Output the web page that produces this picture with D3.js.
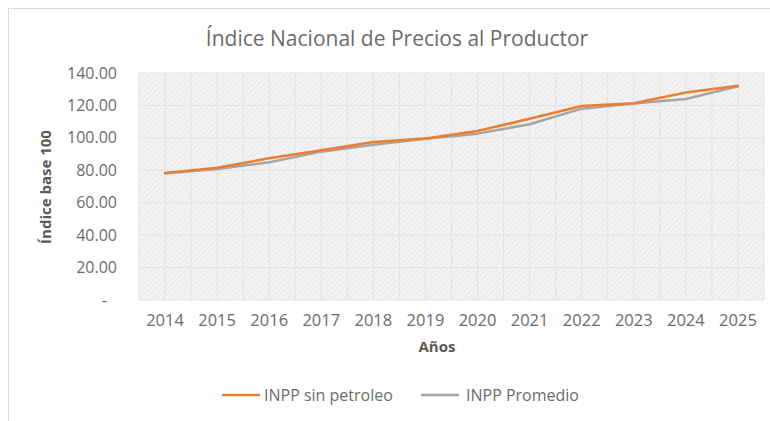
<!DOCTYPE html>
<html>
<head>
<meta charset="utf-8">
<script src="https://cdn.jsdelivr.net/npm/d3@7"></script>
<style>
  body { margin: 0; background: #fff; }
  svg { display: block; font-family: "Open Sans", sans-serif; }
</style>
</head>
<body>
<div id="chart"></div>
<script>
const years = ["2014", "2015", "2016", "2017", "2018", "2019", "2020", "2021", "2022", "2023", "2024", "2025"];
const sinPetroleo = [78.4, 81.6, 87.4, 92.3, 97.4, 99.6, 104.2, 111.8, 119.6, 121.4, 128.0, 132.2];
const promedio = [78.0, 80.8, 85.0, 91.5, 95.8, 99.4, 102.6, 108.4, 118.0, 121.2, 124.0, 131.8];
const yTicks = [0, 20, 40, 60, 80, 100, 120, 140];
const seriesNames = ["INPP sin petroleo", "INPP Promedio"];
const seriesColors = ["#ED7D31", "#A5A5A5"];

const W = 770, H = 421;
const margin = { top: 73, right: 6, bottom: 121, left: 139 };
const width = W - margin.left - margin.right;
const height = H - margin.top - margin.bottom;

const svg = d3.select("#chart").append("svg")
  .attr("width", W)
  .attr("height", H);

// hatch pattern like the excel fill
const defs = svg.append("defs");
const pat = defs.append("pattern")
  .attr("id", "hatch")
  .attr("patternUnits", "userSpaceOnUse")
  .attr("width", 4).attr("height", 4)
  .attr("patternTransform", "rotate(45)");
pat.append("rect").attr("width", 4).attr("height", 4).attr("fill", "#f3f3f3");
pat.append("line").attr("x1", 0).attr("y1", 0).attr("x2", 0).attr("y2", 4)
  .attr("stroke", "#e6e6e6").attr("stroke-width", 1.6);

// chart border
svg.append("rect")
  .attr("x", 8.5).attr("y", 8.5)
  .attr("width", W).attr("height", H)
  .attr("fill", "none")
  .attr("stroke", "#d9d9d9");

svg.append("text")
  .attr("x", 397).attr("y", 46)
  .attr("text-anchor", "middle")
  .style("font-size", "21px")
  .style("fill", "#6b6b6b")
  .text("Índice Nacional de Precios al Productor");

const g = svg.append("g")
  .attr("transform", `translate(${margin.left},${margin.top})`);

const x = d3.scaleBand()
  .domain(years)
  .range([0, width]);

const y = d3.scaleLinear()
  .domain([0, 140])
  .range([height, 0]);

g.append("rect")
  .attr("width", width)
  .attr("height", height)
  .attr("fill", "url(#hatch)");

// vertical grid at band edges and centres
const vLines = [];
years.forEach(d => { vLines.push(x(d)); vLines.push(x(d) + x.bandwidth() / 2); });
vLines.push(width);
g.selectAll(".vgrid")
  .data(vLines)
  .enter().append("line")
  .attr("x1", d => d).attr("x2", d => d)
  .attr("y1", 0).attr("y2", height)
  .attr("stroke", "#e2e2e2");

g.selectAll(".hgrid")
  .data(yTicks)
  .enter().append("line")
  .attr("x1", 0).attr("x2", width)
  .attr("y1", d => y(d)).attr("y2", d => y(d))
  .attr("stroke", "#e2e2e2");

const yAxis = g.append("g")
  .call(d3.axisLeft(y).tickValues(yTicks).tickSize(0).tickPadding(22)
    .tickFormat(d => d === 0 ? "-" : d3.format(".2f")(d)));
yAxis.select(".domain").remove();
yAxis.selectAll("text")
  .style("font-size", "16px")
  .style("fill", "#6b6b6b")
  .style("font-family", "Open Sans, sans-serif");
yAxis.selectAll("text").filter(d => d === 0).attr("dx", -10);

const xAxis = g.append("g")
  .attr("transform", `translate(0,${height})`)
  .call(d3.axisBottom(x).tickSize(0).tickPadding(14));
xAxis.select(".domain").remove();
xAxis.selectAll("text")
  .style("font-size", "16.5px")
  .style("fill", "#6b6b6b")
  .style("font-family", "Open Sans, sans-serif");

svg.append("text")
  .attr("x", 437).attr("y", 352)
  .attr("text-anchor", "middle")
  .style("font-size", "15px")
  .style("font-weight", "bold")
  .style("fill", "#595959")
  .text("Años");

svg.append("text")
  .attr("transform", "translate(51,187) rotate(-90)")
  .attr("text-anchor", "middle")
  .style("font-size", "15px")
  .style("font-weight", "bold")
  .style("fill", "#595959")
  .text("Índice base 100");

const line = d3.line()
  .x((d, i) => x(years[i]) + x.bandwidth() / 2)
  .y(d => y(d));

// gray first so the orange sits on top
[promedio, sinPetroleo].forEach((s, k) => {
  g.append("path")
    .datum(s)
    .attr("fill", "none")
    .attr("stroke", k === 0 ? seriesColors[1] : seriesColors[0])
    .attr("stroke-width", 2.5)
    .attr("stroke-linejoin", "round")
    .attr("stroke-linecap", "round")
    .attr("d", line);
});

// legend
const legendPos = [{ x: 222, tx: 264 }, { x: 421, tx: 466 }];
const legend = svg.selectAll(".legend")
  .data(seriesNames)
  .enter().append("g")
  .attr("transform", (d, i) => `translate(${legendPos[i].x},395)`);
legend.append("line")
  .attr("x1", 0).attr("x2", 38)
  .attr("stroke", (d, i) => seriesColors[i])
  .attr("stroke-width", 2.5);
legend.append("text")
  .attr("x", (d, i) => legendPos[i].tx - legendPos[i].x)
  .attr("dy", "0.35em")
  .style("font-size", "16px")
  .style("fill", "#6b6b6b")
  .text(d => d);
</script>
</body>
</html>
